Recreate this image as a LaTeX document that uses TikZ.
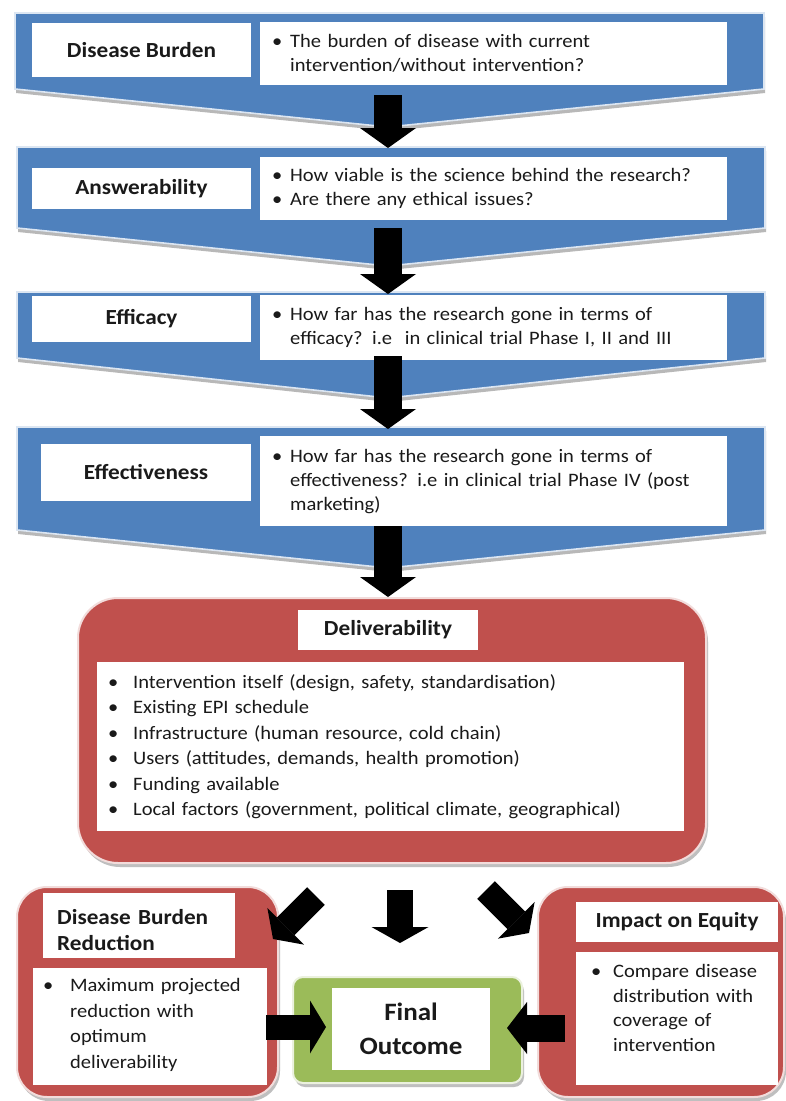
\documentclass[tikz,border=0pt]{standalone}
\usepackage{fontspec}
\setmainfont{Carlito}[FakeStretch=1.08]
\usetikzlibrary{arrows.meta}
\definecolor{cblue}{HTML}{4F81BD}
\definecolor{cblueedge}{HTML}{DCE6F2}
\definecolor{cred}{HTML}{C0504D}
\definecolor{credge}{HTML}{F2DCDB}
\definecolor{cgreen}{HTML}{9BBB59}
\definecolor{cgreenedge}{HTML}{EBF1DE}
\definecolor{ctext}{HTML}{1A1A1A}
\newlength{\bulind}
\newcommand{\bfirst}[1]{\noindent\hangindent=\bulind\hangafter=1\makebox[\bulind][l]{•}#1\par}
\newcommand{\bitem}[1]{\par\noindent\hangindent=\bulind\hangafter=1\makebox[\bulind][l]{•}#1\par}
\newcommand{\mychevron}[5]{%
  \fill[black!28] (#1+1,#3+4) -- (#2+1,#3+4) -- (#2+1,#4+4) -- (388+1,#5+4) -- (#1+1,#4+4) -- cycle;
  \draw[chev] (#1,#3) -- (#2,#3) -- (#2,#4) -- (388,#5) -- (#1,#4) -- cycle;}
\tikzset{
  chev/.style={fill=cblue, draw=cblueedge, line width=1.6pt, line join=miter},
  hdrfont/.style={font=\fontsize{21.5}{26}\selectfont\bfseries, text=ctext},
  hdrbox/.style={hdrfont, fill=white, inner sep=0pt, align=center},
  bodytext/.style={font=\fontsize{19}{#1}\selectfont, text=ctext, inner sep=0pt, anchor=base west, align=left},
  wrect/.style={fill=white},
  redbox/.style={fill=cred, draw=credge, line width=2pt, rounded corners=#1},
  shadowbox/.style={fill=black!25, rounded corners=#1},
  blk/.style n args={3}{draw=black, line width=#1, -{Triangle[width=#2,length=#3,line width=0pt]}},
}
\begin{document}
\begin{tikzpicture}[x=1pt,y=-1pt]
\useasboundingbox (0,0) rectangle (786,1101);
\fill[white] (0,0) rectangle (786,1101);

% ---------- blue chevrons ----------
\mychevron{15}{764}{13}{89}{127}
\mychevron{17}{765}{147}{228}{266}
\mychevron{17}{765}{292}{358}{398}
\mychevron{17}{765}{427}{530}{568}

\node[hdrbox, minimum width=219pt, minimum height=54pt] (h1) at (141.5,50) {Disease Burden};
\node[hdrbox, minimum width=219pt, minimum height=41pt] (h2) at (141.5,188.5) {Answerability};
\node[hdrbox, minimum width=219pt, minimum height=46pt] (h3) at (141.5,319) {Efficacy};
\node[hdrbox, minimum width=210pt, minimum height=57pt] (h4) at (146,472.5) {Effectiveness};

\fill[wrect] (260,22) rectangle (727,85);
\fill[wrect] (260,157) rectangle (727,220);
\fill[wrect] (260,295) rectangle (727,360);
\fill[wrect] (260,436) rectangle (727,526);

\setlength{\bulind}{18pt}
\node[bodytext=24, text width=460pt] (t1) at (272,47)
  {\bfirst{The burden of disease with current\newline intervention/without intervention?}};
\node[bodytext=24, text width=460pt] (t2) at (272,181.5)
  {\bfirst{How viable is the science behind the research?}\bitem{Are there any ethical issues?}};
\node[bodytext=24, text width=460pt] (t3) at (272,320.5)
  {\bfirst{How far has the research gone in terms of\newline efficacy? i.e~ in clinical trial Phase I, II and III}};
\node[bodytext=24, text width=460pt] (t4) at (272,462)
  {\bfirst{How far has the research gone in terms of\newline effectiveness? i.e in clinical trial Phase IV (post\newline marketing)}};

% arrows between chevrons
\coordinate (a1s) at (388,95);  \coordinate (a1e) at (388,148);
\coordinate (a2s) at (388,228); \coordinate (a2e) at (388,294);
\coordinate (a3s) at (388,356); \coordinate (a3e) at (388,429);
\coordinate (a4s) at (388,526); \coordinate (a4e) at (388,597);
\draw[blk={28pt}{56pt}{20pt}] (a1s) -- (a1e);
\draw[blk={28pt}{56pt}{20pt}] (a2s) -- (a2e);
\draw[blk={28pt}{56pt}{20pt}] (a3s) -- (a3e);

% ---------- Deliverability ----------
\fill[shadowbox=40pt] (80,602) rectangle (708,867);
\draw[redbox=40pt] (78,598) rectangle (706,863);
\draw[blk={28pt}{56pt}{20pt}] (a4s) -- (a4e);
\node[hdrbox, minimum width=180pt, minimum height=40pt] (dh) at (388,630) {Deliverability};
\fill[wrect] (97,662) rectangle (684,831);
\setlength{\bulind}{25pt}
\node[bodytext=25.5, text width=570pt] (dl) at (108,688)
  {\bfirst{Intervention itself (design, safety, standardisation)}%
   \bitem{Existing EPI schedule}%
   \bitem{Infrastructure (human resource, cold chain)}%
   \bitem{Users (attitudes, demands, health promotion)}%
   \bitem{Funding available}%
   \bitem{Local factors (government, political climate, geographical)}};

% ---------- Disease Burden Reduction ----------
\fill[shadowbox=30pt] (19,891) rectangle (280,1101);
\draw[redbox=30pt] (17,887) rectangle (278,1097);
\fill[wrect] (43,893) rectangle (235,958);
\node[hdrfont, inner sep=0pt, anchor=base west, align=left, text width=185pt] (dbh) at (57,924)
  {Disease Burden\newline Reduction};
\fill[wrect] (33,968) rectangle (267,1085);
\setlength{\bulind}{27pt}
\node[bodytext=25.5, text width=225pt] (dbt) at (43,991.5)
  {\bfirst{Maximum projected\newline reduction with\newline optimum\newline deliverability}};

% ---------- Impact on Equity ----------
\fill[shadowbox=30pt] (540,891) rectangle (786,1101);
\draw[redbox=30pt] (538,887) rectangle (784,1097);
\node[hdrbox, minimum width=202pt, minimum height=40pt] (ih) at (677,922) {Impact on Equity};
\fill[wrect] (576,952) rectangle (778,1085);
\setlength{\bulind}{22pt}
\node[bodytext=24.7, text width=195pt] (it) at (591,977.5)
  {\bfirst{Compare disease\newline distribution with\newline coverage of\newline intervention}};

% ---------- Final Outcome ----------
\fill[black!25, rounded corners=10pt] (295,981) rectangle (524,1087);
\draw[fill=cgreen, draw=cgreenedge, line width=2pt, rounded corners=10pt] (293,977) rectangle (522,1083);
\node[fill=white, inner sep=0pt, minimum width=158pt, minimum height=82pt, align=center,
      font=\fontsize{25}{34}\selectfont\bfseries, text=ctext] (fo) at (411,1029) {Final\\Outcome};

% ---------- bottom arrows ----------
\coordinate (bm1) at (400,890); \coordinate (bm2) at (400,943);
\coordinate (bl1) at (316,896); \coordinate (bl2) at (273,939);
\coordinate (br1) at (486,890); \coordinate (br2) at (529,933);
\coordinate (hl1) at (266,1027); \coordinate (hl2) at (326,1027);
\coordinate (hr1) at (565,1028); \coordinate (hr2) at (507,1028);
\draw[blk={26pt}{57pt}{16pt}] (bm1) -- (bm2);
\draw[blk={25pt}{52pt}{18pt}] (bl1) -- (bl2);
\draw[blk={25pt}{52pt}{18pt}] (br1) -- (br2);
\draw[blk={25pt}{53pt}{16pt}] (hl1) -- (hl2);
\draw[blk={27pt}{52pt}{20pt}] (hr1) -- (hr2);
\end{tikzpicture}
\end{document}
